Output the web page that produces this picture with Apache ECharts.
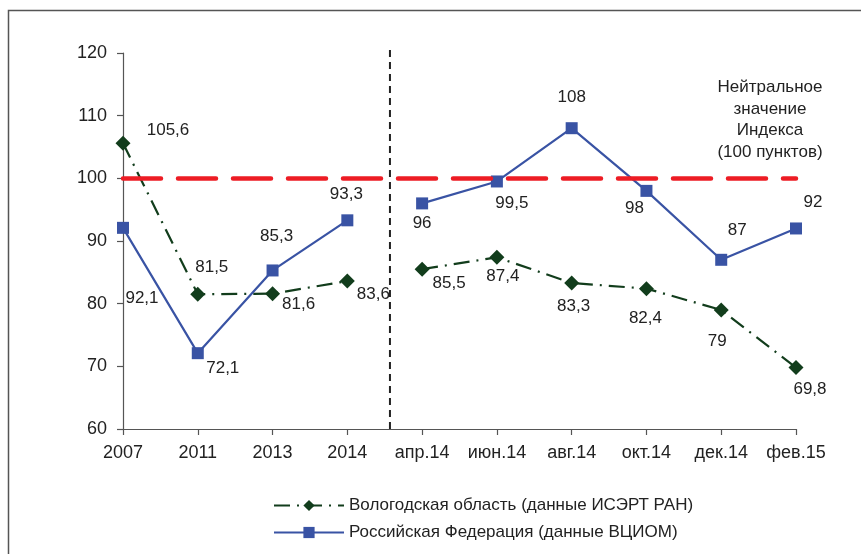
<!DOCTYPE html>
<html><head><meta charset="utf-8">
<script src="https://cdn.jsdelivr.net/npm/echarts@6/dist/echarts.min.js"></script>
<style>html,body{margin:0;padding:0;background:#fff}#c{width:861px;height:554px}</style>
</head><body><div id="c"></div>
<script>
const categories = ['2007','2011','2013','2014','апр.14','июн.14','авг.14','окт.14','дек.14','фев.15'];
const vologda = [105.6, 81.5, 81.6, 83.6, 85.5, 87.4, 83.3, 82.4, 79, 69.8];
const russia = [92.1, 72.1, 85.3, 93.3, 96, 99.5, 108, 98, 87, 92];
const seriesNames = ['Вологодская область (данные ИСЭРТ РАН)', 'Российская Федерация (данные ВЦИОМ)'];
const yTicks = [60, 70, 80, 90, 100, 110, 120];
const neutralValue = 100;
const separatorIndex = 3.57;
const segments = [[0, 3], [4, 9]]; // yearly part, monthly part
const noteLines = ['Нейтральное', 'значение', 'Индекса', '(100 пунктов)'];

// label offsets (styling)
const vologdaOffsets = [[45,-13],[14,-27],[26,11],[26,13],[27,14],[6,19],[2,23],[-1,30],[-4,31],[14,22]];
const russiaOffsets = [[19,70],[25,15],[4,-34],[-1,-26],[0,20],[15,22],[0,-31],[-12,17],[16,-29],[17,-26]];

const fmt = v => String(v).replace('.', ',');
const FONT = '"Liberation Sans", Arial, sans-serif';
const labelStyle = {show:true, position:'inside', color:'#222', fontSize:17, fontFamily:FONT};

function segData(values, offsets, seg) {
  return values.map((v, i) => (i >= seg[0] && i <= seg[1]) ? {value:v, label:{offset:offsets[i]}} : '-');
}

const series = [{
  name:'separator', type:'line', xAxisIndex:1, z:1, clip:false,
  data:[[separatorIndex, yTicks[0]], [separatorIndex, yTicks[yTicks.length-1]+0.5]],
  symbol:'none', lineStyle:{color:'#222', width:2, type:[7,5]},
  markLine:{silent:true, symbol:'none', label:{show:false},
    lineStyle:{color:'#ed1c24', width:4.5, type:[38,17], cap:'round'},
    data:[{yAxis:neutralValue}]}
}];
segments.forEach(seg => {
  series.push({
    name:seriesNames[0], type:'line', z:3,
    data:segData(vologda, vologdaOffsets, seg),
    symbol:'diamond', symbolSize:15,
    itemStyle:{color:'#123d1c'},
    lineStyle:{color:'#123d1c', width:2.2, type:[16,7,2,7]},
    label:Object.assign({formatter:p=>fmt(p.value)}, labelStyle)
  });
  series.push({
    name:seriesNames[1], type:'line', z:4,
    data:segData(russia, russiaOffsets, seg),
    symbol:'rect', symbolSize:12,
    itemStyle:{color:'#3953a4'},
    lineStyle:{color:'#3953a4', width:2.2},
    label:Object.assign({formatter:p=>fmt(p.value)}, labelStyle)
  });
});

const chart = echarts.init(document.getElementById('c'));
chart.setOption({
  animation:false,
  backgroundColor:'#fff',
  grid:{left:123, right:65, top:53, bottom:125, containLabel:false},
  xAxis:[{
    type:'category', data:categories, boundaryGap:false,
    axisLine:{lineStyle:{color:'#555', width:1.2}},
    axisTick:{show:true, alignWithLabel:true, length:6, lineStyle:{color:'#555', width:1.2}},
    axisLabel:{color:'#222', fontSize:18, fontFamily:FONT, margin:15, interval:0},
    splitLine:{show:false}
  },{
    type:'value', min:0, max:categories.length-1, show:false
  }],
  yAxis:{
    type:'value', min:yTicks[0], max:yTicks[yTicks.length-1], interval:10,
    axisLine:{show:true, lineStyle:{color:'#555', width:1.2}},
    axisTick:{show:true, length:6, lineStyle:{color:'#555', width:1.2}},
    axisLabel:{color:'#222', fontSize:18, fontFamily:FONT, margin:16},
    splitLine:{show:false}
  },
  legend:{
    data:seriesNames, orient:'vertical', left:268, top:492,
    itemWidth:70, itemHeight:14, itemGap:10,
    textStyle:{color:'#222', fontSize:17, fontFamily:FONT}
  },
  graphic:[
    {type:'rect', shape:{x:8.5, y:10.5, width:900, height:600}, style:{fill:'none', stroke:'#555', lineWidth:1.5}, silent:true},
    {type:'text', x:770, y:77, style:{text:noteLines.join('\n'), textAlign:'center', fill:'#222', fontSize:17, lineHeight:21.5, fontFamily:FONT}}
  ],
  series:series
});
</script></body></html>
